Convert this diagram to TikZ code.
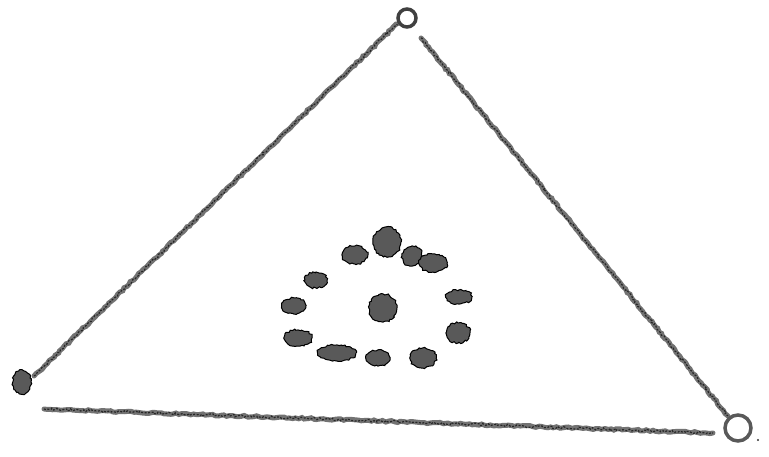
\documentclass[tikz,border=0pt]{standalone}
\usepackage{tikz}
\usetikzlibrary{decorations.pathmorphing}

\tikzset{
  sketch/.style={line width=5pt, draw=black!55, line cap=round,
    decorate, decoration={random steps, segment length=3pt, amplitude=0.8pt}},
  grain/.style={line width=1.2pt, draw=black!85, dash pattern=on 2pt off 1.5pt,
    decorate, decoration={random steps, segment length=2pt, amplitude=1.2pt}},
  blob/.style={fill=black!65, draw=black, line width=1pt,
    decorate, decoration={random steps, segment length=2pt, amplitude=1pt}},
}

\begin{document}
\begin{tikzpicture}[x=1pt, y=-1pt]
        \useasboundingbox (0,0) rectangle (769,457);
        % corners of the triangle
        \coordinate (top) at (407,18);
        \coordinate (left) at (22,382);
        \coordinate (right) at (738,428);
        \coordinate (topL) at (397,24);
        \coordinate (topR) at (421,38);
        \coordinate (leftU) at (34,376);
        \coordinate (leftB) at (44,409);
        \coordinate (rightU) at (728,416);
        \coordinate (rightB) at (713,433);
        % sides
        \draw[sketch] (leftU) -- (topL);
        \draw[sketch] (topR) -- (rightU);
        \draw[sketch] (leftB) -- (rightB);
        \draw[grain] (leftU) -- (topL);
        \draw[grain] (topR) -- (rightU);
        \draw[grain] (leftB) -- (rightB);
        % corner marks
        \draw[line width=3.5pt, draw=black!75] (top) circle (9);
        \draw[line width=3.5pt, draw=black!65] (right) circle (13);
        \fill[black!80] (758,440) circle (1.2);
        \path[blob] (left) ellipse [x radius=9, y radius=12];
        % ring of spots
        \foreach \x/\y/\a/\b in {355/255/13/9, 387/242/14/15, 412/256/10/10, 433/263/14/9,
            316/280/11/8, 294/306/12/8, 459/297/13/7, 298/338/14/8, 458/333/12/10,
            337/353/19/8, 378/358/12/8, 423/358/13/10} {
            \path[blob] (\x,\y) ellipse [x radius=\a, y radius=\b];
        }
        % middle spot
        \path[blob] (383,308) ellipse [x radius=14, y radius=14];
\end{tikzpicture}
\end{document}
